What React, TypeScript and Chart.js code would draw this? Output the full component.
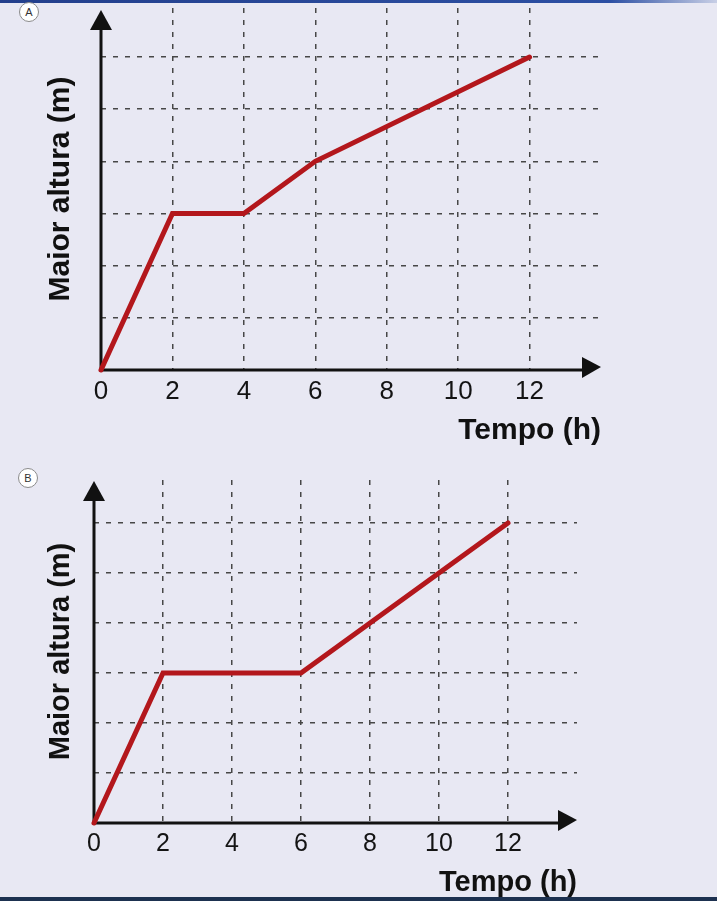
import React, { useEffect, useRef } from "react";
import { Chart, registerables } from "chart.js";

Chart.register(...registerables);

// ---- data ----
const xTickValues = [0, 2, 4, 6, 8, 10, 12];
const yGridValues = [0, 1, 2, 3, 4, 5, 6];
const timeA = [0, 2, 4, 6, 12];
const heightA = [0, 3, 3, 4, 6];
const timeB = [0, 2, 6, 12];
const heightB = [0, 3, 3, 6];
const xTitle = "Tempo (h)";
const yTitle = "Maior altura (m)";
const panelLabels = ["A", "B"];

const FONT = '"Liberation Sans", Arial, Helvetica, sans-serif';
const BG = "#e8e8f3";

const arrowAxes = {
  id: "arrowAxes",
  beforeDatasetsDraw(chart: any, _args: any, opts: any) {
    const { ctx, chartArea } = chart;
    const { left, right, top, bottom } = chartArea;
    ctx.save();
    ctx.strokeStyle = "#111";
    ctx.fillStyle = "#111";
    ctx.lineWidth = 3;
    const tipY = top + (opts.tipY || 0);
    const tipX = right + (opts.tipX || 0);
    // y axis
    ctx.beginPath();
    ctx.moveTo(left, bottom + 1.5);
    ctx.lineTo(left, tipY + 15);
    ctx.stroke();
    ctx.beginPath();
    ctx.moveTo(left, tipY);
    ctx.lineTo(left - 11, tipY + 20);
    ctx.lineTo(left + 11, tipY + 20);
    ctx.closePath();
    ctx.fill();
    // x axis
    ctx.beginPath();
    ctx.moveTo(left - 1.5, bottom);
    ctx.lineTo(tipX - 15, bottom);
    ctx.stroke();
    ctx.beginPath();
    ctx.moveTo(tipX, bottom - 3);
    ctx.lineTo(tipX - 19, bottom - 13);
    ctx.lineTo(tipX - 19, bottom + 8);
    ctx.closePath();
    ctx.fill();
    ctx.restore();
  },
};

type PanelProps = {
  xs: number[];
  ys: number[];
  width: number;
  height: number;
  pad: { top: number; right: number; bottom: number };
  leftW: number;
  xH: number;
  yMax: number;
  tickSize: number;
  titleSize: number;
  yTitlePad: number;
  xTitlePad: number;
  tipY: number;
};

function Panel(p: PanelProps) {
  const ref = useRef<HTMLCanvasElement>(null);
  useEffect(() => {
    if (!ref.current) return;
    const gridColor = (c: any) =>
      c.tick && c.tick.value === 0 ? "rgba(0,0,0,0)" : "#474747";
    const chart = new Chart(ref.current, {
      type: "line",
      data: {
        datasets: [
          {
            data: p.xs.map((x, i) => ({ x, y: p.ys[i] })),
            borderColor: "#b3171c",
            borderWidth: 5,
            pointRadius: 0,
            tension: 0,
            borderJoinStyle: "miter",
            borderCapStyle: "round",
            clip: false as any,
          },
        ],
      },
      options: {
        animation: false,
        responsive: false,
        maintainAspectRatio: false,
        layout: { padding: { top: p.pad.top, right: p.pad.right, bottom: p.pad.bottom, left: 0 } },
        plugins: {
          legend: { display: false },
          tooltip: { enabled: false },
          arrowAxes: { tipY: p.tipY, tipX: 0 },
        } as any,
        scales: {
          x: {
            type: "linear",
            min: 0,
            max: 14,
            afterBuildTicks: (s: any) => {
              s.ticks = xTickValues.map((v) => ({ value: v }));
            },
            afterFit: (s: any) => {
              s.height = p.xH;
            },
            grid: { color: gridColor, lineWidth: 1.5, drawTicks: false },
            border: { display: false, dash: [5, 7] },
            ticks: {
              autoSkip: false,
              maxRotation: 0,
              padding: 6,
              color: "#141414",
              font: { family: FONT, size: p.tickSize },
              callback: (v: any) => String(v),
            },
            title: {
              display: true,
              text: xTitle,
              align: "end",
              color: "#111",
              font: { family: FONT, size: p.titleSize, weight: "bold" },
              padding: { top: 0, bottom: p.xTitlePad },
            },
          },
          y: {
            type: "linear",
            min: 0,
            max: p.yMax,
            afterBuildTicks: (s: any) => {
              s.ticks = yGridValues.map((v) => ({ value: v }));
            },
            afterFit: (s: any) => {
              s.width = p.leftW;
            },
            grid: { color: gridColor, lineWidth: 1.5, drawTicks: false },
            border: { display: false, dash: [5, 7] },
            ticks: { display: false },
            title: {
              display: true,
              text: yTitle,
              color: "#111",
              font: { family: FONT, size: p.titleSize, weight: "bold" },
              padding: { top: p.yTitlePad, bottom: 0 },
            },
          },
        },
      },
      plugins: [arrowAxes as any],
    });
    return () => chart.destroy();
  }, []);
  return (
    <canvas
      ref={ref}
      width={p.width}
      height={p.height}
      style={{ display: "block", width: p.width, height: p.height }}
    />
  );
}

const circleStyle = (top: number, left: number): React.CSSProperties => ({
  position: "absolute",
  top,
  left,
  width: 18,
  height: 18,
  borderRadius: "50%",
  border: "1px solid #8a8a8a",
  background: "#fff",
  color: "#333",
  fontFamily: FONT,
  fontSize: 11,
  lineHeight: "18px",
  textAlign: "center",
});

export default function App() {
  return (
    <div
      style={{
        position: "fixed",
        left: 0,
        top: 0,
        width: 717,
        height: 901,
        background: BG,
        overflow: "hidden",
      }}
    >
      <div
        style={{
          position: "absolute",
          top: 0,
          left: 0,
          width: 717,
          height: 3,
          background: "linear-gradient(to right, #233f8c, #2c4fa3 85%, #c8cfe6)",
        }}
      />
      <div style={{ position: "absolute", top: 0, left: 0 }}>
        <Panel
          xs={timeA}
          ys={heightA}
          width={717}
          height={460}
          pad={{ top: 8, right: 116, bottom: 5 }}
          leftW={101}
          xH={85}
          yMax={6.94}
          tickSize={26}
          titleSize={30}
          yTitlePad={43}
          xTitlePad={6}
          tipY={2}
        />
      </div>
      <div style={{ position: "absolute", top: 460, left: 0 }}>
        <Panel
          xs={timeB}
          ys={heightB}
          width={717}
          height={441}
          pad={{ top: 20, right: 140, bottom: 0 }}
          leftW={94}
          xH={78}
          yMax={6.86}
          tickSize={25}
          titleSize={29}
          yTitlePad={44}
          xTitlePad={1}
          tipY={1}
        />
      </div>
      <div style={circleStyle(2, 19)}>{panelLabels[0]}</div>
      <div style={circleStyle(468, 18)}>{panelLabels[1]}</div>
      <div
        style={{
          position: "absolute",
          top: 897,
          left: 0,
          width: 717,
          height: 4,
          background: "#1d3150",
        }}
      />
    </div>
  );
}
